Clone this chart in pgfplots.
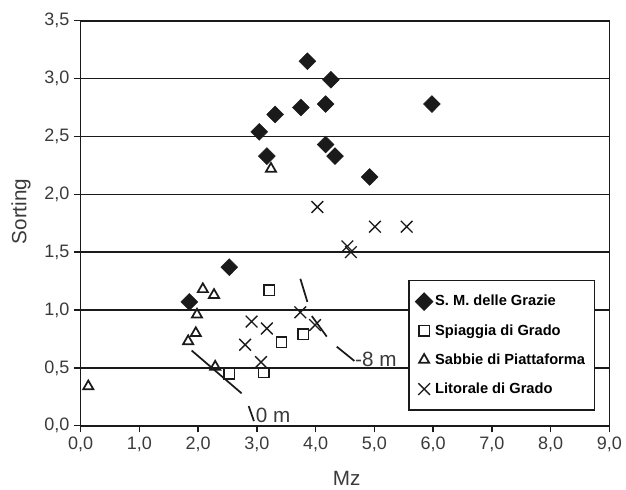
\documentclass[border=0pt]{standalone}
\usepackage{fontspec}
\setmainfont{Liberation Sans}
\usepackage{pgfplots}
\pgfplotsset{compat=1.18}
\definecolor{ink}{HTML}{1A1A1A}
\definecolor{ticktext}{HTML}{3A3A3A}
\newcommand\tickfont{\fontsize{13.5}{16}\selectfont}
\newcommand\labfont{\fontsize{15.5}{18}\selectfont}

\begin{document}
\begin{tikzpicture}
\begin{axis}[
  scale only axis, width=396.5pt, height=303.75pt,
  xmin=0, xmax=9, ymin=0, ymax=3.5,
  xtick={0,1,...,9}, ytick={0,0.5,...,3.5},
  xtick pos=bottom, ytick pos=left,
  tick align=outside, major tick length=5pt,
  axis line style={ink, line width=1.2pt},
  tick style={ink, line width=1.1pt},
  ymajorgrids, grid style={ink, line width=1.1pt},
  /pgf/number format/fixed, /pgf/number format/zerofill,
  /pgf/number format/precision=1, /pgf/number format/use comma,
  /pgf/number format/assume math mode=true,
  every tick label/.append style={font=\tickfont, text=ticktext},
  xlabel={\labfont Mz}, ylabel={\labfont Sorting},
  every axis label/.append style={text=ticktext},
  xlabel style={at={(axis description cs:0.503,-0.129)}, anchor=center},
  ylabel style={at={(axis description cs:-0.113,0.529)}, anchor=center},
  legend style={at={(axis cs:5.58,1.26)}, anchor=north west, draw=ink,
    line width=1pt, fill=white, font=\bfseries\fontsize{11}{13}\selectfont,
    row sep=8.4pt, inner xsep=5pt, inner ysep=9pt},
  legend cell align=left,
  legend image code/.code={\draw[mark repeat=2, mark phase=2]
    plot coordinates {(0pt,0pt) (7pt,0pt) (19pt,0pt)};},
]
% isobath traces (0 m and -8 m)
\addplot[ink, line width=1.3pt, forget plot] coordinates {(1.89,0.65) (2.74,0.28)};
\addplot[ink, line width=1.3pt, forget plot] coordinates {(2.86,0.17) (2.95,0.04)};
\addplot[ink, line width=1.3pt, forget plot] coordinates {(3.74,1.27) (3.86,1.07)};
\addplot[ink, line width=1.3pt, forget plot] coordinates {(3.935,0.948) (4.19,0.77)};
\addplot[ink, line width=1.3pt, forget plot] coordinates {(4.36,0.683) (4.66,0.56)};

\addplot[only marks, mark=diamond*, mark size=6.3pt,
  mark options={xscale=1.33, fill=ink, draw=ink}] coordinates {
  (3.04,2.54) (3.31,2.69) (3.17,2.33) (3.86,3.15) (3.75,2.75) (4.26,2.99)
  (4.17,2.78) (4.17,2.43) (4.33,2.33) (5.98,2.78) (4.92,2.15) (2.53,1.37)
  (1.85,1.07)};
\addlegendentry{S. M. delle Grazie}

\addplot[only marks, mark=square, mark size=3.9pt,
  mark options={draw=ink, line width=1.1pt}] coordinates {
  (3.21,1.17) (3.42,0.72) (3.79,0.79) (2.53,0.45) (3.12,0.46)};
\addlegendentry{Spiaggia di Grado}

\addplot[only marks, mark=triangle, mark size=4.4pt,
  mark options={draw=ink, line width=1.3pt}] coordinates {
  (0.13,0.34) (2.08,1.18) (2.27,1.13) (1.98,0.96) (1.96,0.80) (1.83,0.73)
  (2.29,0.51) (3.24,2.22)};
\addlegendentry{Sabbie di Piattaforma}

\addplot[only marks, mark=x, mark size=6.2pt,
  mark options={draw=ink, line width=1pt}] coordinates {
  (4.03,1.89) (5.01,1.72) (5.55,1.72) (4.54,1.55) (4.60,1.50) (2.91,0.90)
  (3.17,0.84) (2.80,0.70) (3.07,0.55) (3.74,0.98) (3.99,0.87)};
\addlegendentry{Litorale di Grado}

\node[anchor=west, inner sep=0pt, text=ticktext, font=\labfont]
  at (axis cs:2.98,0.092) {0 m};
\node[anchor=west, inner sep=0pt, text=ticktext, font=\labfont]
  at (axis cs:4.67,0.575) {-8 m};
\end{axis}
\pgfresetboundingbox
\path[use as bounding box] (-60.5pt,-47.5pt) rectangle (409pt,319.3pt);
\end{tikzpicture}
\end{document}
